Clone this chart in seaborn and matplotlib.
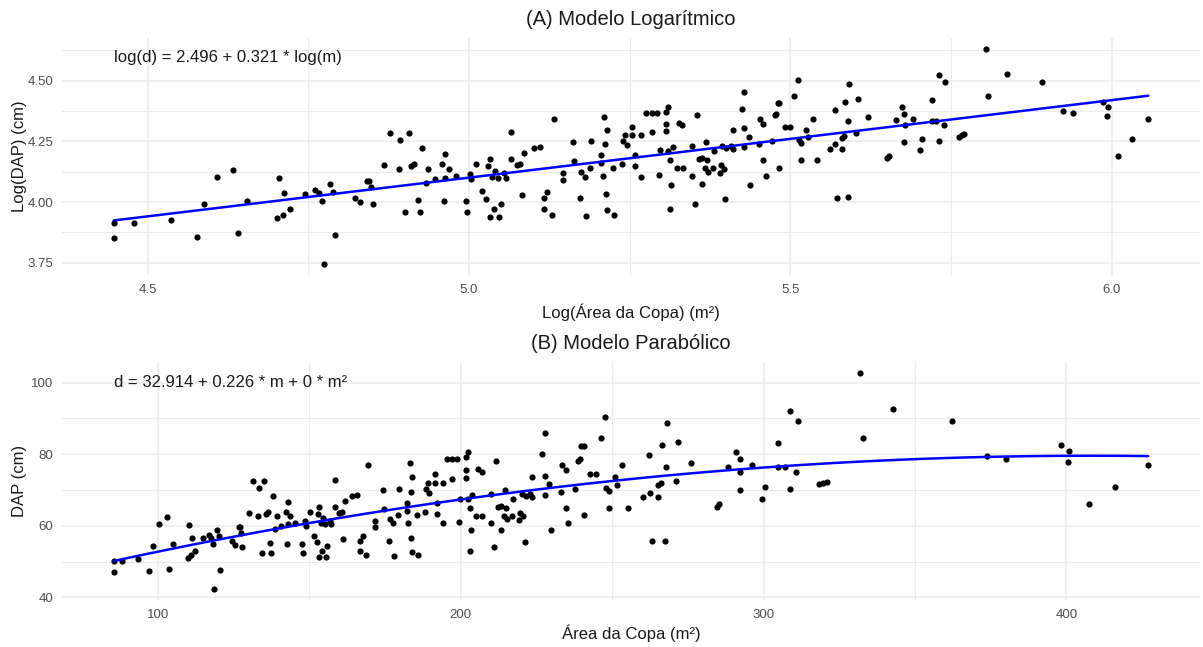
import numpy as np
import pandas as pd
import matplotlib
matplotlib.use("Agg")
import matplotlib.pyplot as plt
from matplotlib.ticker import FixedLocator
import seaborn as sns

# ---- data (log scale values, panel A) ----
log_area = [
    4.447, 4.447, 4.478, 4.536, 4.576, 4.587, 4.607, 4.633, 4.640, 4.654,
    4.701, 4.704, 4.710, 4.712, 4.721, 4.745, 4.760, 4.766, 4.771, 4.774,
    4.783, 4.789, 4.792,
    4.823, 4.831, 4.841, 4.845, 4.847, 4.850, 4.868, 4.877, 4.891, 4.893,
    4.901, 4.906, 4.910, 4.914, 4.920, 4.923, 4.927, 4.933, 4.936, 4.947,
    4.958, 4.961, 4.963, 4.963, 4.968, 4.979, 4.995, 4.996, 5.001, 5.003,
    5.011, 5.020, 5.027, 5.029, 5.032, 5.032, 5.035, 5.039, 5.040, 5.045,
    5.046, 5.049, 5.054, 5.058, 5.066, 5.066, 5.074, 5.079, 5.082, 5.086,
    5.101, 5.111, 5.116, 5.117, 5.122, 5.129, 5.132, 5.146, 5.146, 5.161,
    5.163, 5.172, 5.174, 5.180, 5.182, 5.188, 5.190, 5.205, 5.205, 5.208,
    5.210, 5.212, 5.213, 5.214, 5.215, 5.224, 5.225, 5.238, 5.240, 5.242,
    5.245, 5.254, 5.254, 5.258, 5.258,
    5.268, 5.268, 5.275, 5.284, 5.292, 5.284, 5.296, 5.297, 5.307, 5.310,
    5.307, 5.307, 5.310, 5.317, 5.313, 5.315, 5.313, 5.323, 5.326, 5.332,
    5.333, 5.347, 5.347, 5.352, 5.355, 5.358, 5.362, 5.363, 5.367, 5.369,
    5.371, 5.372, 5.380, 5.381, 5.390, 5.392, 5.394, 5.396, 5.399, 5.400,
    5.407, 5.410, 5.410, 5.424, 5.428, 5.428, 5.428, 5.435, 5.437, 5.451,
    5.453, 5.458, 5.458, 5.462, 5.471, 5.476, 5.478, 5.480, 5.483, 5.483,
    5.492, 5.500, 5.506, 5.512, 5.513, 5.517, 5.517, 5.525, 5.528, 5.535,
    5.542, 5.562, 5.569, 5.570, 5.573, 5.580, 5.580, 5.584, 5.585, 5.589,
    5.590, 5.592, 5.602, 5.605, 5.621, 5.651, 5.654, 5.664, 5.673, 5.677,
    5.677, 5.678, 5.691,
    5.702, 5.705, 5.720, 5.720, 5.727, 5.732, 5.732, 5.739, 5.741, 5.763,
    5.767, 5.771, 5.805, 5.808, 5.837, 5.892, 5.924, 5.940, 5.987, 5.994,
    5.993, 6.010, 6.031, 6.057,
]
log_dap = [
    3.913, 3.851, 3.913, 3.927, 3.855, 3.994, 4.103, 4.132, 3.872, 4.003,
    3.933, 4.098, 3.948, 4.037, 3.970, 4.033, 4.048, 4.037, 4.003, 3.744,
    4.076, 4.043, 3.866,
    4.018, 4.000, 4.087, 4.087, 4.062, 3.992, 4.152, 4.285, 4.138, 4.258,
    3.961, 4.285, 4.147, 4.156, 4.008, 3.961, 4.222, 4.080, 4.138, 4.095,
    4.156, 4.004, 4.200, 4.101, 4.138, 4.109, 4.004, 3.961, 4.114, 4.095,
    4.156, 4.047, 4.014, 4.147, 4.176, 3.938, 4.105, 3.970, 4.129, 4.101,
    3.938, 3.994, 4.118, 4.101, 4.289, 4.176, 4.152, 4.156, 4.028, 4.204,
    4.222, 4.227, 4.018, 3.970, 4.043, 3.948, 4.342, 4.118, 4.090, 4.247,
    4.171, 4.018, 4.124, 4.105, 3.942, 4.142, 4.252, 4.194, 4.161, 4.109,
    4.351, 4.241, 4.033, 4.299, 3.966, 4.142, 3.948, 4.156, 4.251, 4.275,
    4.237, 4.309, 4.275, 4.194, 4.147,
    4.275, 4.105, 4.366, 4.366, 4.366, 4.291, 4.113, 4.213, 4.372, 4.390,
    4.324, 4.295, 4.211, 4.227, 4.172, 4.072, 3.971, 4.140, 4.328, 4.318,
    4.140, 4.231, 4.109, 3.992, 4.357, 4.178, 4.182, 4.076, 4.140, 4.247,
    4.172, 4.124, 4.140, 4.211, 4.120, 4.153, 4.231, 4.138, 4.014, 4.225,
    4.231, 4.299, 4.219, 4.384, 4.452, 4.304, 4.227, 4.270, 4.072, 4.240,
    4.344, 4.324, 4.172, 4.109, 4.252, 4.357, 4.365, 4.409, 4.409, 4.142,
    4.309, 4.309, 4.438, 4.503, 4.255, 4.244, 4.172, 4.299, 4.269, 4.342,
    4.172, 4.219, 4.379, 4.238, 4.019, 4.219, 4.266, 4.274, 4.413, 4.023,
    4.335, 4.485, 4.285, 4.423, 4.351, 4.180, 4.190, 4.337, 4.390, 4.365,
    4.247, 4.317, 4.342,
    4.213, 4.260, 4.419, 4.335, 4.335, 4.522, 4.251, 4.318, 4.493, 4.270,
    4.275, 4.280, 4.632, 4.438, 4.527, 4.493, 4.375, 4.366, 4.413, 4.394,
    4.355, 4.190, 4.260, 4.342,
]

titles = ["(A) Modelo Logarítmico", "(B) Modelo Parabólico"]
eq_texts = ["log(d) = 2.496 + 0.321 * log(m)", "d = 32.914 + 0.226 * m + 0 * m²"]
xlabels = ["Log(Área da Copa) (m²)", "Área da Copa (m²)"]
ylabels = ["Log(DAP) (cm)", "DAP (cm)"]
top_xticks = [4.5, 5.0, 5.5, 6.0]
top_xticklabels = ["4.5", "5.0", "5.5", "6.0"]
top_yticks = [3.75, 4.00, 4.25, 4.50]
top_yticklabels = ["3.75", "4.00", "4.25", "4.50"]
bot_xticks = [100, 200, 300, 400]
bot_yticks = [40, 60, 80, 100]

df = pd.DataFrame({"log_area": log_area, "log_dap": log_dap})
df["area"] = np.exp(df["log_area"])
df["dap"] = np.exp(df["log_dap"])

sns.set_theme(style="white")
plt.rcParams["font.family"] = ["Liberation Sans", "DejaVu Sans"]

W, H = 1203, 647
fig = plt.figure(figsize=(W / 100, H / 100), dpi=100)

def frac(x0, y0, x1, y1):
    return [x0 / W, 1 - y1 / H, (x1 - x0) / W, (y1 - y0) / H]

ax1 = fig.add_axes(frac(62, 38, 1200, 275))
ax2 = fig.add_axes(frac(62, 362, 1200, 600))

grid_c = "#EBEBEB"
tick_c = "#4D4D4D"

def style(ax, xmaj, xmin, ymaj, ymin):
    for s in ax.spines.values():
        s.set_visible(False)
    ax.set_facecolor("white")
    ax.xaxis.set_major_locator(FixedLocator(xmaj))
    ax.yaxis.set_major_locator(FixedLocator(ymaj))
    ax.xaxis.set_minor_locator(FixedLocator(xmin))
    ax.yaxis.set_minor_locator(FixedLocator(ymin))
    ax.grid(True, which="major", color=grid_c, linewidth=1.1)
    ax.grid(True, which="minor", color=grid_c, linewidth=0.8)
    ax.set_axisbelow(True)
    ax.tick_params(which="both", length=0, pad=6.5, labelsize=9.5, labelcolor=tick_c)

# Panel A
sns.scatterplot(data=df, x="log_area", y="log_dap", ax=ax1, color="black",
                s=20, linewidth=0, zorder=3)
sns.regplot(data=df, x="log_area", y="log_dap", ax=ax1, scatter=False, ci=None,
            order=1, line_kws={"color": "#0000FF", "linewidth": 1.8, "zorder": 4})
ax1.margins(x=0.05, y=0.05)
style(ax1, top_xticks, [4.75, 5.25, 5.75], top_yticks, [3.875, 4.125, 4.375, 4.625])
ax1.set_xticklabels(top_xticklabels)
ax1.set_yticklabels(top_yticklabels)
ax1.text(df["log_area"].min(), 4.595, eq_texts[0], ha="left", va="center",
         fontsize=12, color="#1A1A1A", zorder=5)

# Panel B
sns.scatterplot(data=df, x="area", y="dap", ax=ax2, color="black",
                s=20, linewidth=0, zorder=3)
sns.regplot(data=df, x="area", y="dap", ax=ax2, scatter=False, ci=None,
            order=2, line_kws={"color": "#0000FF", "linewidth": 1.8, "zorder": 4})
ax2.margins(x=0.05, y=0.05)
style(ax2, bot_xticks, [150, 250, 350], bot_yticks, [50, 70, 90])
ax2.set_xticklabels([str(v) for v in bot_xticks])
ax2.set_yticklabels([str(v) for v in bot_yticks])
ax2.text(df["area"].min(), 100, eq_texts[1], ha="left", va="center",
         fontsize=12, color="#1A1A1A", zorder=5)

for ax, t, xl, yl, xly in zip([ax1, ax2], titles, xlabels, ylabels, [-0.156, -0.139]):
    ax.set_title(t, fontsize=14.5, color="#1A1A1A", pad=9.5)
    ax.set_xlabel(xl, fontsize=12, color="#1A1A1A")
    ax.set_ylabel(yl, fontsize=12, color="#1A1A1A")
    ax.xaxis.label.set_va("center")
    ax.yaxis.label.set_va("center")
    ax.xaxis.set_label_coords(0.5, xly)
    ax.yaxis.set_label_coords(-0.037, 0.5)

fig.savefig("out.png", dpi=100, facecolor="white")
